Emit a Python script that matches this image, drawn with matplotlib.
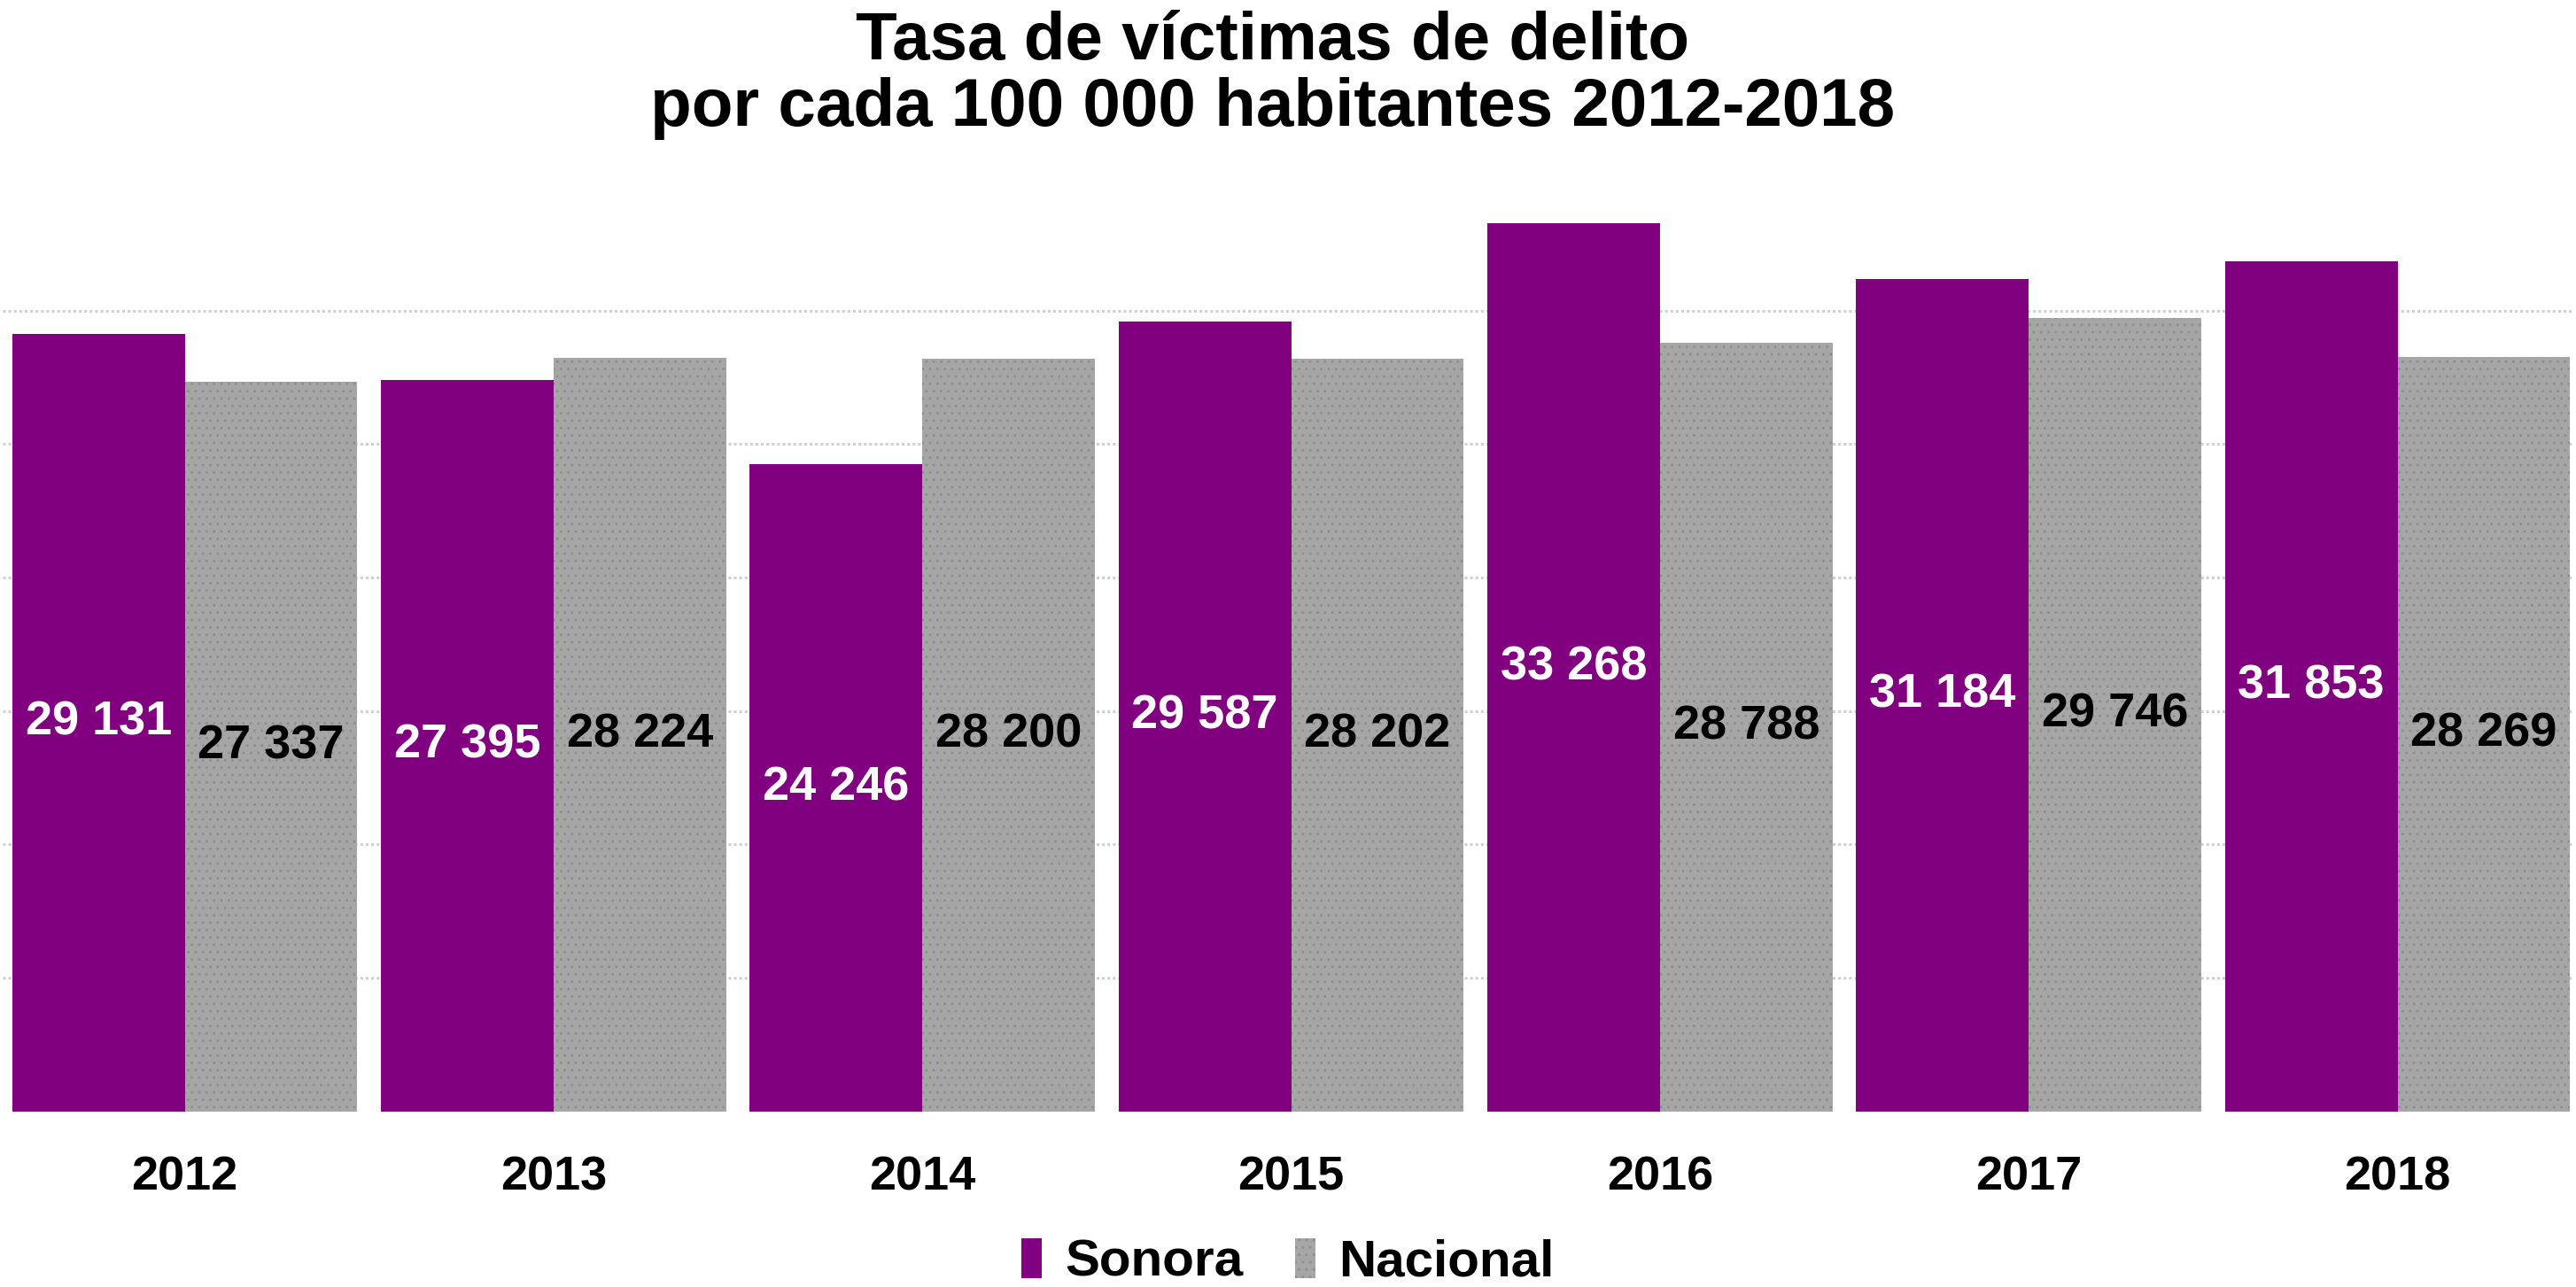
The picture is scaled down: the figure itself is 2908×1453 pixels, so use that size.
import matplotlib.pyplot as plt
import numpy as np

years = ["2012", "2013", "2014", "2015", "2016", "2017", "2018"]
sonora = [29131, 27395, 24246, 29587, 33268, 31184, 31853]
nacional = [27337, 28224, 28200, 28202, 28788, 29746, 28269]
grid_values = [5000, 10000, 15000, 20000, 25000, 30000]

plt.rcParams['font.family'] = ['Liberation Sans', 'DejaVu Sans']
plt.rcParams['font.weight'] = 'bold'


def fmt(v):
    # thousands separated with a space, as in the original
    return f"{v:,}".replace(",", " ")


fig = plt.figure(figsize=(29.08, 14.53), dpi=100)
ax = fig.add_axes([0.001, 0.1366, 0.998, 0.709])

x = np.arange(len(years))
width = 0.468

ax.bar(x - width / 2, sonora, width, color="#800080", label="Sonora", zorder=2)
ax.bar(x + width / 2, nacional, width, color="#A6A6A6", edgecolor="#8f8f8f",
       linewidth=0, hatch="..", label="Nacional", zorder=2)

for xi, s, n in zip(x, sonora, nacional):
    ax.text(xi - width / 2, s / 2, fmt(s), ha="center", va="center",
            color="white", fontsize=39, fontweight="bold", zorder=3)
    ax.text(xi + width / 2, n / 2, fmt(n), ha="center", va="center",
            color="black", fontsize=39, fontweight="bold", zorder=3)

ax.set_ylim(0, 34200)
ax.set_xlim(-0.494, 6.477)
ax.set_yticks(grid_values)
ax.set_yticklabels([])
ax.tick_params(axis="y", length=0)
ax.grid(axis="y", color="#D0D0D0", linestyle=(0, (1, 1)), linewidth=2.2, zorder=0)
ax.set_axisbelow(True)

ax.set_xticks(x)
ax.set_xticklabels(years, fontsize=39, fontweight="bold")
ax.tick_params(axis="x", length=0, pad=36)

for spine in ax.spines.values():
    spine.set_visible(False)

fig.text(0.494, 0.992, "Tasa de víctimas de delito\npor cada 100 000 habitantes 2012-2018",
         ha="center", va="top", fontsize=55, fontweight="bold", linespacing=1.08)

fig.legend(loc="lower center", bbox_to_anchor=(0.5, -0.036), ncol=2, frameon=False,
           fontsize=42, handlelength=0.4, handleheight=0.8, handletextpad=0.45,
           columnspacing=1.0)

fig.savefig("out.png", dpi=100)
